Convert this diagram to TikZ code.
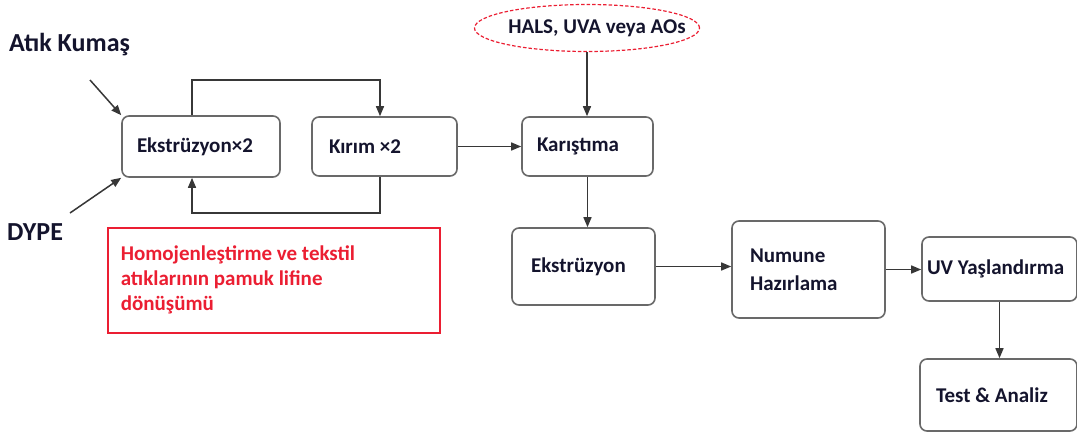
\documentclass[tikz,border=0pt]{standalone}
\usepackage{fontspec}
\setmainfont{Carlito}
\usepackage{xcolor}
\usepackage{tikz}
\usetikzlibrary{arrows.meta, shapes.geometric}
\definecolor{edgegray}{RGB}{105,105,105}
\definecolor{linegray}{RGB}{55,55,55}
\definecolor{inkblue}{RGB}{20,20,45}
\definecolor{warnred}{RGB}{235,30,50}
\tikzstyle{proc}=[draw=edgegray, line width=1.6pt, rounded corners=7pt, inner sep=0pt, align=flush left, text=inkblue, font=\fontsize{21}{28}\selectfont\bfseries]
\tikzstyle{flow}=[draw=linegray, line width=1.5pt, -{Triangle[length=10pt, width=8pt]}]
\tikzstyle{feed}=[font=\fontsize{26}{28}\selectfont\bfseries, text=inkblue, inner sep=0pt]

\begin{document}
\begin{tikzpicture}[x=1pt, y=-1pt]
        \useasboundingbox (0,0) rectangle (1077,434);

        % Inputs
        \node[feed, anchor=west] (atik) at (9,45) {Atık Kumaş};
        \node[feed, anchor=west] (dype) at (7,232) {DYPE};
        \coordinate (atikend) at (90,80);
        \coordinate (dypeend) at (70,213);

        % Recycling loop
        \node[proc, minimum width=158, minimum height=61, text width=128, inner xsep=15] (ekstrx) at (201,146.5) {Ekstrüzyon×2};
        \node[proc, minimum width=145, minimum height=59, text width=111, inner xsep=17] (kirim) at (384.5,146.5) {Kırım ×2};

        % Additives and mixing
        \node[ellipse, draw=warnred, line width=1.2pt, dash pattern=on 3.5pt off 2pt, minimum width=225, minimum height=47, inner sep=0pt] (hals) at (587,28) {};
        \node[font=\fontsize{21}{24}\selectfont\bfseries, text=inkblue, inner sep=0pt] (halstext) at (597,28) {HALS, UVA veya AOs};
        \node[proc, minimum width=131, minimum height=59, text width=101, inner xsep=15] (karis) at (587.5,146.5) {Karıştıma};

        % Second line
        \node[proc, minimum width=143, minimum height=77, text width=105, inner xsep=19] (ekstr) at (583.5,266.5) {Ekstrüzyon};
        \node[proc, minimum width=153, minimum height=97, text width=117, inner xsep=18] (numune) at (808.5,269.5) {Numune\\Hazırlama};
        \node[proc, minimum width=153, minimum height=64, text width=145, inner xsep=5] (uv) at (999.5,269) {UV Yaşlandırma};
        \node[proc, minimum width=157, minimum height=72, text width=125, inner xsep=16] (test) at (998.5,395) {Test \& Analiz};

        % Note box
        \node[draw=warnred, line width=1.6pt, anchor=north west, minimum width=332, minimum height=105, text width=306, inner xsep=13, inner ysep=0pt, align=flush left, text=warnred, font=\fontsize{21}{25}\selectfont\bfseries] (note) at (107,227) {Homojenleştirme ve tekstil\\atıklarının pamuk lifine\\dönüşümü\\[6pt]};

        % Connectors
        \draw[flow] (atikend) -- (ekstrx.north west);
        \draw[flow] (dypeend) -- (ekstrx.south west);

        \coordinate (upleft) at (192,80);
        \coordinate (upright) at (380,80);
        \coordinate (lowleft) at (192,213);
        \coordinate (lowright) at (380,213);
        \draw[flow] (ekstrx.north -| upleft) -- (upleft) -- (upright) -- (kirim.north -| upright);
        \draw[flow] (kirim.south -| lowright) -- (lowright) -- (lowleft) -- (ekstrx.south -| lowleft);

        \draw[flow] (kirim.east) -- (karis.west);
        \draw[flow] (hals.south) -- (hals.south |- karis.north);
        \draw[flow] (karis.south) -- (karis.south |- ekstr.north);
        \draw[flow] (ekstr.east) -- (ekstr.east -| numune.west);
        \draw[flow] (numune.east) -- (numune.east -| uv.west);
        \draw[flow] (uv.south) -- (uv.south |- test.north);

    \end{tikzpicture}
\end{document}
